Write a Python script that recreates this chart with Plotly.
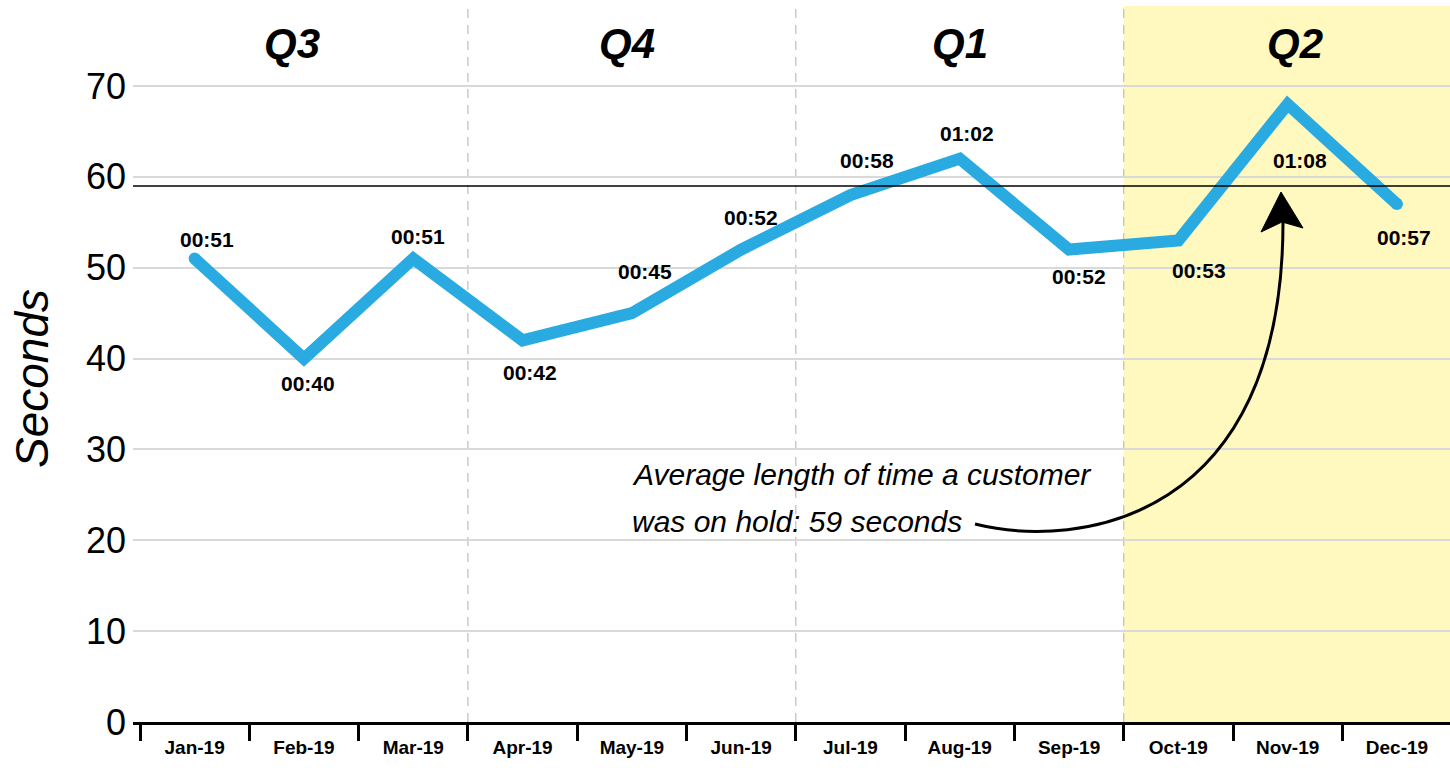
import plotly.graph_objects as go

months = ["Jan-19", "Feb-19", "Mar-19", "Apr-19", "May-19", "Jun-19",
          "Jul-19", "Aug-19", "Sep-19", "Oct-19", "Nov-19", "Dec-19"]
seconds = [51, 40, 51, 42, 45, 52, 58, 62, 52, 53, 68, 57]
labels = ["00:51", "00:40", "00:51", "00:42", "00:45", "00:52",
          "00:58", "01:02", "00:52", "00:53", "01:08", "00:57"]
average = 59
quarters = ["Q3", "Q4", "Q1", "Q2"]
quarter_centers = ["Feb-19", "May-19", "Aug-19", "Nov-19"]
quarter_bounds = [2.5, 5.5, 8.5]
yticks = [0, 10, 20, 30, 40, 50, 60, 70]
note_lines = ["Average length of time a customer", "was on hold: 59 seconds"]

# label placement offsets (pixels)
label_dx = [12, 4, 5, 7, 13, 10, 17, 7, 10, 21, 12, 7]
label_dy = [19, -25, 22, -32, 42, 32, 35, 25, -27, -30, -56, -33]
quarter_dx = [-12, -5, 0, 7]

SANS = "Liberation Sans, Arial, sans-serif"

W, H = 1450, 768
ML, MR, MT, MB = 133, 0, 6, 46
PW, PH = W - ML - MR, H - MT - MB
CAT = 109.3
x0 = -0.5 - 7 / CAT
x1 = x0 + PW / CAT
YMAX = PH / 9.086


def px(x, y):
    return (x - ML) / PW, (H - MB - y) / PH


fig = go.Figure()
fig.add_trace(go.Scatter(
    x=months, y=seconds, mode="lines",
    line=dict(color="#29ABE2", width=12),
    hoverinfo="skip", showlegend=False,
))
# round caps at line ends
fig.add_trace(go.Scatter(
    x=[months[0], months[-1]], y=[seconds[0], seconds[-1]], mode="markers",
    marker=dict(color="#29ABE2", size=12, line=dict(width=0)),
    hoverinfo="skip", showlegend=False,
))

shapes = []
shapes.append(dict(type="rect", xref="x", yref="paper", x0=8.5, x1=12, y0=0, y1=1,
                   fillcolor="#FFF8BF", line=dict(width=0), layer="below"))
for b in quarter_bounds:
    shapes.append(dict(type="line", xref="x", yref="paper", x0=b, x1=b, y0=0, y1=1,
                       line=dict(color="#BDBDBD", width=1.2, dash="9px,7px"), layer="below"))
shapes.append(dict(type="line", xref="paper", yref="y", x0=0, x1=1, y0=average, y1=average,
                   line=dict(color="black", width=1.5), layer="above"))

# curved arrow
p0 = px(975, 524); c1 = px(1080, 550); c2 = px(1283, 520); p3 = px(1283, 222)
path = f"M {p0[0]},{p0[1]} C {c1[0]},{c1[1]} {c2[0]},{c2[1]} {p3[0]},{p3[1]}"
shapes.append(dict(type="path", xref="paper", yref="paper", path=path,
                   line=dict(color="black", width=3)))
t = px(1281, 192); bl = px(1261, 232); nt = px(1282, 222); br = px(1303, 228)
head = f"M {t[0]},{t[1]} L {bl[0]},{bl[1]} L {nt[0]},{nt[1]} L {br[0]},{br[1]} Z"
shapes.append(dict(type="path", xref="paper", yref="paper", path=head,
                   fillcolor="black", line=dict(color="black", width=1)))

annotations = []
for m, v, lab, dx, dy in zip(months, seconds, labels, label_dx, label_dy):
    annotations.append(dict(x=m, y=v, xref="x", yref="y", text=lab, showarrow=False,
                            xshift=dx, yshift=dy, xanchor="center", yanchor="middle",
                            font=dict(family=SANS, size=21, color="black", weight="bold")))
for q, c, dx in zip(quarters, quarter_centers, quarter_dx):
    annotations.append(dict(x=c, y=px(0, 44)[1], xref="x", yref="paper", text=q, showarrow=False,
                            xshift=dx, xanchor="center", yanchor="middle",
                            font=dict(family=SANS, size=42, color="black", weight="bold",
                                      style="italic")))
annotations.append(dict(x=px(32, 0)[0], y=px(0, 379)[1], xref="paper", yref="paper",
                        text="Seconds", textangle=-90, showarrow=False,
                        xanchor="center", yanchor="middle",
                        font=dict(family=SANS, size=46, color="black", style="italic")))
for line_text, ypix in zip(note_lines, [474, 521]):
    annotations.append(dict(x=px(630, 0)[0], y=px(0, ypix)[1], xref="paper", yref="paper",
                            text=line_text, align="left", xanchor="left", yanchor="middle",
                            showarrow=False,
                            font=dict(family=SANS, size=30, color="black", style="italic")))

fig.update_layout(
    width=W, height=H,
    margin=dict(l=ML, r=MR, t=MT, b=MB),
    paper_bgcolor="white", plot_bgcolor="white",
    shapes=shapes, annotations=annotations,
    showlegend=False,
    xaxis=dict(type="category", categoryorder="array", categoryarray=months,
               range=[x0, x1], tickson="boundaries", ticks="outside", ticklen=16,
               tickwidth=3, tickcolor="black", showline=True, linewidth=3,
               linecolor="black", showgrid=False, zeroline=False,
               ticklabelstandoff=6,
               tickfont=dict(family=SANS, size=19, color="black", weight="bold")),
    yaxis=dict(range=[0, YMAX], tickvals=yticks, showgrid=True, gridcolor="#D9D9D9",
               gridwidth=2, zeroline=False, showline=False, ticks="",
               ticklabelstandoff=6,
               tickfont=dict(family=SANS, size=36, color="black")),
)

fig.write_html("out.html")
